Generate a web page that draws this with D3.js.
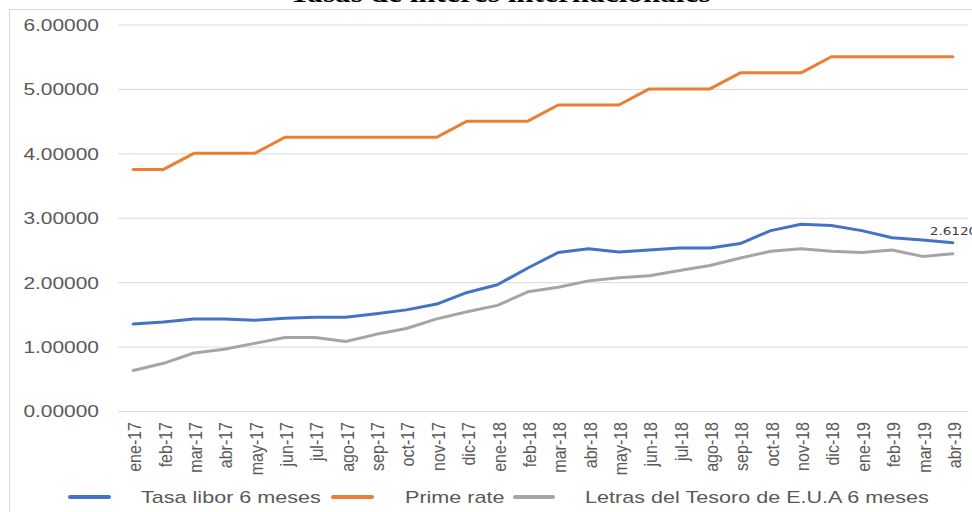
<!DOCTYPE html>
<html>
<head>
<meta charset="utf-8">
<script src="https://cdn.jsdelivr.net/npm/d3@7"></script>
<style>
  body { margin: 0; background: #fff; }
  svg { display: block; }
</style>
</head>
<body>
<div id="chart"></div>
<script>
// meses (ene-17 .. abr-19)
var months = ["ene-17","feb-17","mar-17","abr-17","may-17","jun-17","jul-17","ago-17","sep-17","oct-17","nov-17","dic-17",
              "ene-18","feb-18","mar-18","abr-18","may-18","jun-18","jul-18","ago-18","sep-18","oct-18","nov-18","dic-18",
              "ene-19","feb-19","mar-19","abr-19"];

// tasas
var libor = [1.35,1.38,1.43,1.43,1.41,1.44,1.455,1.455,1.51,1.57,1.66,1.84,
             1.96,2.22,2.46,2.52,2.47,2.50,2.53,2.53,2.60,2.80,2.90,2.88,
             2.80,2.69,2.655,2.612];
var prime = [3.75,3.75,4.00,4.00,4.00,4.25,4.25,4.25,4.25,4.25,4.25,4.50,
             4.50,4.50,4.75,4.75,4.75,5.00,5.00,5.00,5.25,5.25,5.25,5.50,
             5.50,5.50,5.50,5.50];
var letras = [0.63,0.74,0.90,0.96,1.05,1.14,1.14,1.08,1.19,1.28,1.43,1.54,
              1.64,1.85,1.92,2.02,2.07,2.10,2.18,2.26,2.375,2.48,2.52,2.48,
              2.46,2.50,2.40,2.44];

var seriesNames = ["Tasa libor 6 meses", "Prime rate", "Letras del Tesoro de E.U.A 6 meses"];
var yTicks = [0, 1, 2, 3, 4, 5, 6];
var title = "Tasas de interés internacionales";
var lastLabel = "2.61200";

var colors = ["#4472C4", "#ED7D31", "#A5A5A5"];
var series = [libor, prime, letras];

var width = 972, height = 512;
var sx = 1.23; // texto ensanchado como en la imagen
var textColor = "#595959";
var font = "'Liberation Sans', Arial, sans-serif";

var svg = d3.select("#chart").append("svg")
    .attr("width", width)
    .attr("height", height);

// marco del grafico
svg.append("rect")
    .attr("x", 9.5).attr("y", 9.5)
    .attr("width", 1000).attr("height", 600)
    .attr("fill", "none")
    .attr("stroke", "#D9D9D9");

// titulo (cortado arriba)
svg.append("text")
    .attr("transform", "translate(500,2) scale(1.25,1)")
    .attr("text-anchor", "middle")
    .style("font-family", "'Liberation Serif', 'Times New Roman', serif")
    .style("font-weight", "bold")
    .style("font-size", "25px")
    .attr("fill", "#000")
    .text(title);

var x = d3.scaleBand().domain(months).range([118, 968]).padding(0);
var y = d3.scaleLinear().domain([0, 6]).range([411, 24.5]);

function cx(d) { return x(d) + x.bandwidth() / 2; }

// eje Y con lineas de cuadricula
var yAxis = svg.append("g")
    .attr("transform", "translate(118,0)")
    .call(d3.axisLeft(y).tickValues(yTicks).tickSize(-850).tickFormat(d3.format(".5f")));
yAxis.select(".domain").remove();
yAxis.selectAll(".tick line").attr("stroke", "#D9D9D9").attr("stroke-width", 1);
yAxis.selectAll(".tick text")
    .attr("x", null).attr("dy", "0.35em")
    .attr("transform", "translate(-19,0) scale(" + sx + ",1)")
    .attr("text-anchor", "end")
    .attr("fill", textColor)
    .style("font-family", font)
    .style("font-size", "17px");

// eje X
var xAxis = svg.append("g")
    .attr("transform", "translate(0,411)")
    .call(d3.axisBottom(x).tickSize(0));
xAxis.select(".domain").attr("stroke", "#D9D9D9");
xAxis.selectAll(".tick text")
    .attr("y", 0).attr("x", 0).attr("dy", "0.42em")
    .attr("transform", "translate(0,11) scale(1.2,1) rotate(-90)")
    .attr("text-anchor", "end")
    .attr("fill", textColor)
    .style("font-family", font)
    .style("font-size", "16px");

// lineas
var line = d3.line()
    .x(function(d, i) { return cx(months[i]); })
    .y(function(d) { return y(d); });

svg.selectAll(".serie")
    .data(series)
    .enter().append("path")
    .attr("class", "serie")
    .attr("d", function(d) { return line(d); })
    .attr("fill", "none")
    .attr("stroke", function(d, i) { return colors[i]; })
    .attr("stroke-width", 3)
    .attr("stroke-linejoin", "round")
    .attr("stroke-linecap", "round");

// etiqueta del ultimo dato de libor
var last = months.length - 1;
svg.append("text")
    .attr("transform", "translate(" + (cx(months[last]) - 23) + "," + (y(libor[last]) - 8) + ") scale(" + sx + ",1)")
    .attr("fill", "#404040")
    .style("font-family", "'DejaVu Sans', sans-serif")
    .style("font-size", "11px")
    .text(lastLabel);

// leyenda
var legendX = [[70, 109, 141], [333, 372, 405], [515, 553, 585]];
var legendY = 497;
var legend = svg.selectAll(".legend")
    .data(seriesNames)
    .enter().append("g")
    .attr("class", "legend");
legend.append("line")
    .attr("x1", function(d, i) { return legendX[i][0]; })
    .attr("x2", function(d, i) { return legendX[i][1]; })
    .attr("y1", legendY).attr("y2", legendY)
    .attr("stroke", function(d, i) { return colors[i]; })
    .attr("stroke-width", 4)
    .attr("stroke-linecap", "round");
legend.append("text")
    .attr("transform", function(d, i) { return "translate(" + legendX[i][2] + "," + legendY + ") scale(1.27,1)"; })
    .attr("dy", "0.36em")
    .attr("fill", textColor)
    .style("font-family", font)
    .style("font-size", "17px")
    .text(function(d) { return d; });
</script>
</body>
</html>
